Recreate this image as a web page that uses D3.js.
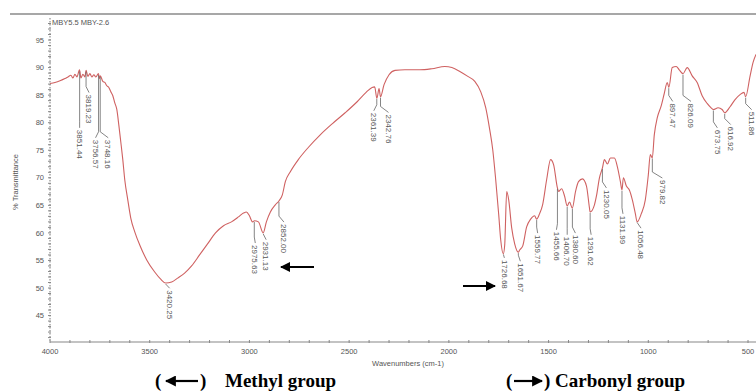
<!DOCTYPE html>
<html>
<head>
<meta charset="utf-8">
<script src="https://cdn.jsdelivr.net/npm/d3@7"></script>
<style>
  body { margin: 0; background: #fff; }
  svg { display: block; }
</style>
</head>
<body>
<div id="chart"></div>
<script>
// FTIR spectrum
const wavenumbers = [4000, 3975, 3950, 3925, 3910, 3895, 3885, 3875, 3865, 3852, 3845, 3835, 3825, 3819, 3810,
  3800, 3790, 3780, 3770, 3757, 3752, 3748, 3735, 3725, 3715, 3705, 3695, 3685, 3675, 3665, 3655, 3645, 3635,
  3625, 3610, 3595, 3575, 3550, 3515, 3475, 3445, 3420, 3390, 3360, 3325, 3290, 3250, 3210, 3170, 3130, 3090,
  3055, 3030, 3015, 3000, 2985, 2975, 2955, 2931, 2915, 2895, 2870, 2852, 2835, 2820, 2795, 2755, 2705, 2645,
  2585, 2520, 2460, 2415, 2385, 2372, 2361, 2350, 2343, 2325, 2300, 2270, 2220, 2145, 2085, 2020, 1985, 1945,
  1905, 1870, 1840, 1815, 1795, 1780, 1765, 1750, 1740, 1727, 1720, 1710, 1700, 1685, 1670, 1652, 1645, 1630,
  1610, 1590, 1570, 1560, 1545, 1530, 1510, 1490, 1475, 1456, 1450, 1435, 1420, 1407, 1395, 1381, 1365, 1350,
  1330, 1310, 1295, 1292, 1270, 1260, 1245, 1230, 1220, 1205, 1190, 1170, 1155, 1140, 1132, 1125, 1110, 1095,
  1080, 1065, 1056, 1035, 1015, 1000, 990, 980, 970, 955, 935, 920, 905, 897, 880, 860, 845, 826, 805, 780,
  755, 730, 705, 685, 674, 650, 630, 617, 590, 565, 540, 520, 512, 490, 475, 460];
const transmittance = [87.1, 87.3, 87.6, 88.0, 88.3, 88.6, 88.1, 88.8, 88.3, 89.6, 88.1, 88.8, 88.3, 89.5, 88.4,
  88.9, 88.3, 88.7, 88.3, 88.9, 88.0, 88.5, 87.5, 87.3, 86.7, 86.4, 85.6, 84.9, 83.6, 82.4, 79.6, 76.5, 73.3,
  69.6, 66.0, 62.7, 60.2, 57.8, 55.1, 52.9, 51.6, 50.9, 51.1, 51.8, 52.7, 54.0, 56.0, 58.0, 60.0, 61.3, 62.0,
  62.9, 63.6, 63.8, 63.1, 62.0, 62.2, 62.0, 60.0, 62.0, 63.8, 65.1, 65.8, 66.9, 69.3, 71.1, 73.3, 75.5, 77.8,
  79.8, 81.8, 83.8, 85.5, 86.4, 86.5, 84.4, 86.2, 84.7, 86.9, 88.7, 89.5, 89.6, 89.6, 89.8, 90.2, 90.0, 89.3,
  88.4, 87.5, 85.6, 82.7, 78.7, 75.1, 69.6, 63.3, 58.7, 56.2, 57.8, 67.5, 66.0, 60.9, 58.0, 56.5, 56.9, 57.6,
  61.1, 62.5, 63.1, 62.5, 63.5, 65.1, 69.6, 73.3, 72.4, 68.2, 67.5, 68.0, 66.7, 64.9, 65.6, 64.5, 67.5, 69.3,
  69.8, 68.5, 64.5, 63.8, 65.1, 66.7, 70.0, 71.8, 73.3, 72.5, 73.6, 73.6, 72.0, 69.3, 67.8, 70.0, 68.5, 67.8,
  66.0, 63.5, 62.0, 63.5, 66.0, 70.5, 74.2, 73.6, 77.8, 80.9, 83.1, 85.3, 87.3, 86.4, 90.0, 90.2, 89.6, 88.9,
  90.0, 88.5, 87.3, 84.9, 83.5, 82.7, 82.4, 82.7, 82.4, 81.8, 82.9, 84.2, 85.1, 85.5, 84.7, 88.4, 90.9, 92.4];

const peakWavenumbers = [3851.44, 3819.23, 3756.57, 3748.16, 3420.25, 2975.63, 2931.13, 2852.00, 2361.39, 2342.76,
  1726.68, 1651.67, 1559.77, 1455.66, 1406.70, 1380.60, 1291.62, 1230.05, 1131.99, 1056.48, 979.82, 897.47,
  826.09, 673.75, 616.92, 511.86];
const peakLabels = ['3851.44', '3819.23', '3756.57', '3748.16', '3420.25', '2975.63', '2931.13', '2852.00',
  '2361.39', '2342.76', '1726.68', '1651.67', '1559.77', '1455.66', '1406.70', '1380.60', '1291.62', '1230.05',
  '1131.99', '1056.48', '979.82', '897.47', '826.09', '673.75', '616.92', '511.86'];
// where each label's text starts (in %T) and its sideways shift in px
const labelTop = [78.7, 85.1, 76.9, 76.9, 49.6, 57.8, 58.4, 61.6, 81.8, 81.5, 55.1, 54.5, 59.6, 60.2, 59.3, 59.6,
  59.3, 67.8, 63.1, 60.5, 69.6, 83.5, 83.5, 78.7, 79.3, 82.0];
const labelShift = [0, 3, -3, 8, 4, 1, 3, 5, -3, 8, 1, 2, 1, -1, 0, 3, 1, 4, 1, 4, 10, 4, 8, 4, 6, 6];

const yTicks = [45, 50, 55, 60, 65, 70, 75, 80, 85, 90, 95];
const xTicks = [4000, 3500, 3000, 2500, 2000, 1500, 1000, 500];

const W = 756, H = 392;
const svg = d3.select('#chart').append('svg').attr('width', W).attr('height', H);

const x = d3.scaleLinear().domain([4000, 460]).range([50, 756]);
const y = d3.scaleLinear().domain([40.2, 99]).range([342, 18]);

const tickFont = 'Liberation Sans, Arial, sans-serif';

// top border line
svg.append('line')
  .attr('x1', 10).attr('x2', W).attr('y1', 14).attr('y2', 14)
  .attr('stroke', '#8a8a8a').attr('stroke-width', 1.5);

svg.append('text')
  .attr('x', 52).attr('y', 25)
  .style('font-family', tickFont).style('font-size', '7.5px').style('fill', '#555')
  .text('MBY5.5 MBY-2.6');

// y axis: dotted line, minor ticks each unit
const yAxisG = svg.append('g').attr('transform', 'translate(50,0)');
yAxisG.append('line')
  .attr('y1', 18).attr('y2', 342)
  .attr('stroke', '#777').attr('stroke-dasharray', '1.5,1.5');
yAxisG.selectAll('.ymin')
  .data(d3.range(41, 99))
  .enter().append('line')
  .attr('x1', -2).attr('x2', 1)
  .attr('y1', d => y(d)).attr('y2', d => y(d))
  .attr('stroke', '#888');
yAxisG.selectAll('.ytxt')
  .data(yTicks)
  .enter().append('text')
  .attr('x', -6).attr('y', d => y(d)).attr('dy', '0.35em')
  .attr('text-anchor', 'end')
  .style('font-family', tickFont).style('font-size', '7.5px').style('fill', '#555')
  .text(d => d);

// x axis
const xAxisG = svg.append('g').attr('transform', 'translate(0,342)');
xAxisG.append('line')
  .attr('x1', 50).attr('x2', W)
  .attr('stroke', '#888').attr('stroke-width', 1.2);
xAxisG.selectAll('.xmin')
  .data(d3.range(4000, 459, -100))
  .enter().append('line')
  .attr('x1', d => x(d)).attr('x2', d => x(d))
  .attr('y1', -2).attr('y2', 1)
  .attr('stroke', '#888');
xAxisG.selectAll('.xtxt')
  .data(xTicks)
  .enter().append('text')
  .attr('x', d => x(d)).attr('y', 12)
  .attr('text-anchor', 'middle')
  .style('font-family', tickFont).style('font-size', '7.5px').style('fill', '#555')
  .text(d => d);

// axis titles
svg.append('text')
  .attr('transform', 'translate(18,182) rotate(-90)')
  .attr('text-anchor', 'middle')
  .style('font-family', tickFont).style('font-size', '7.5px').style('fill', '#555')
  .text('% Transmittance');

svg.append('text')
  .attr('x', 408).attr('y', 366)
  .attr('text-anchor', 'middle')
  .style('font-family', tickFont).style('font-size', '7.5px').style('fill', '#555')
  .text('Wavenumbers (cm-1)');

// spectrum
const spectrum = wavenumbers.map((w, i) => ({ w: w, t: transmittance[i] }));
const line = d3.line().x(d => x(d.w)).y(d => y(d.t)).curve(d3.curveMonotoneX);

svg.append('defs').append('clipPath').attr('id', 'plot')
  .append('rect').attr('x', 50).attr('y', 16).attr('width', W - 50).attr('height', 326);

svg.append('path')
  .datum(spectrum)
  .attr('clip-path', 'url(#plot)')
  .attr('fill', 'none')
  .attr('stroke', '#cf6161')
  .attr('stroke-width', 1.1)
  .attr('d', line);

// curve value at a wavenumber (linear interpolation of the read points)
const asc = spectrum.slice().reverse();
const bis = d3.bisector(d => d.w).left;
function curveAt(w) {
  const i = Math.max(1, Math.min(asc.length - 1, bis(asc, w)));
  const a = asc[i - 1], b = asc[i];
  return a.t + (b.t - a.t) * (w - a.w) / (b.w - a.w);
}

// peak labels with leaders
const labels = svg.append('g');
peakWavenumbers.forEach((w, i) => {
  const xp = x(w);
  const yc = y(curveAt(w)) + 1;
  const yt = y(labelTop[i]);
  const xt = xp + labelShift[i];
  const bend = Math.max(yc, yt - 8);
  labels.append('path')
    .attr('d', `M${xp},${yc}V${bend}L${xt},${Math.max(bend, yt - 2)}`)
    .attr('fill', 'none')
    .attr('stroke', '#666')
    .attr('stroke-width', 0.8);
  labels.append('text')
    .attr('transform', `translate(${xt},${yt}) rotate(90)`)
    .attr('dy', '0.35em')
    .style('font-family', tickFont).style('font-size', '8px').style('fill', '#555')
    .text(peakLabels[i]);
});

// arrows
const defs = svg.select('defs');
defs.append('marker')
  .attr('id', 'head').attr('viewBox', '0 0 10 10')
  .attr('refX', 9).attr('refY', 5)
  .attr('markerWidth', 5).attr('markerHeight', 5)
  .attr('orient', 'auto')
  .append('path').attr('d', 'M0,0L10,5L0,10z').attr('fill', '#000');

function arrow(x1, y1, x2, y2, w) {
  svg.append('line')
    .attr('x1', x1).attr('y1', y1).attr('x2', x2).attr('y2', y2)
    .attr('stroke', '#000').attr('stroke-width', w)
    .attr('marker-end', 'url(#head)');
}
arrow(314, 267, 281, 267, 2);
arrow(463, 286, 495, 286, 2);

// captions
const capFont = 'Liberation Serif, Times New Roman, serif';
function caption(x0, t) {
  svg.append('text')
    .attr('x', x0).attr('y', 387)
    .style('font-family', capFont).style('font-size', '19px').style('font-weight', 'bold')
    .text(t);
}
caption(155, '(');
arrow(198, 381, 166, 381, 2.2);
caption(200, ')');
caption(225, 'Methyl group');
caption(506, '(');
arrow(514, 381, 542, 381, 2.2);
caption(544, ')');
caption(555, 'Carbonyl group');
</script>
</body>
</html>
